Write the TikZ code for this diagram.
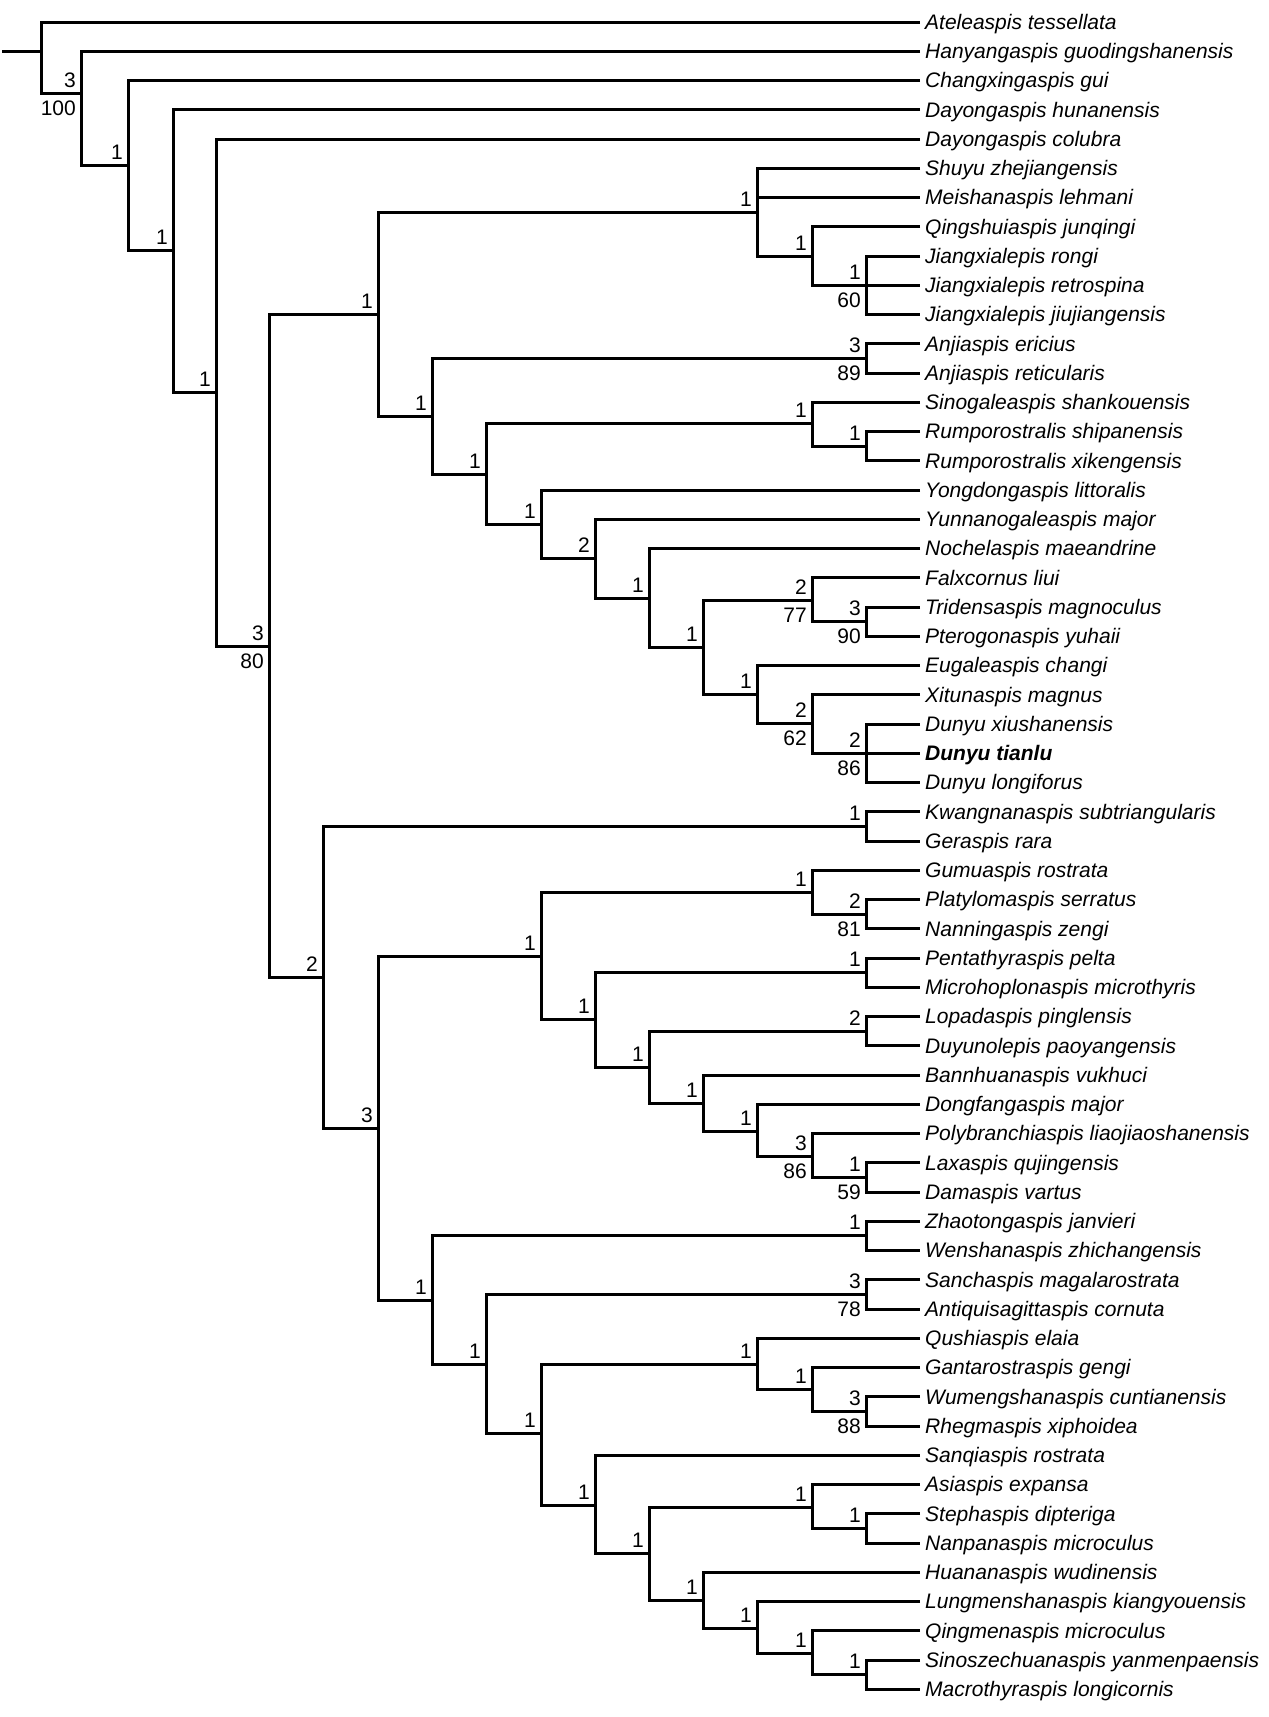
\documentclass[tikz,border=0pt]{standalone}
\usepackage{fontspec}
\setmainfont{Liberation Sans}
\begin{document}
\begin{tikzpicture}[x=1pt,y=-1pt,
  br/.style={line width=3pt,line join=miter,black},
  taxon/.style={anchor=base west,inner sep=0pt,font=\fontsize{21}{25}\selectfont\itshape},
  num/.style={anchor=base east,inner sep=0pt,font=\fontsize{21}{25}\selectfont}]
\useasboundingbox (0,0) rectangle (1269,1717);
\newcommand\leafnode[2]{\coordinate (e#1) at (920,{22+(#1-1)*29.25});
  \node[taxon] (t#1) at ([xshift=5pt,yshift=-7.4pt]e#1) {#2};}
\newcommand\clade[3]{\draw[br] (#2) -| (#1) |- (#3);}
\newcommand\extra[2]{\draw[br] (#1 |- #2) -- (#2);}
\newcommand\supa[2]{\node[num] (ua#1) at ([xshift=-5pt,yshift=6pt]#1) {#2};}
\newcommand\supb[2]{\node[num] (ub#1) at ([xshift=-5pt,yshift=-22pt]#1) {#2};}
% taxa
\leafnode{1}{Ateleaspis tessellata}
\leafnode{2}{Hanyangaspis guodingshanensis}
\leafnode{3}{Changxingaspis gui}
\leafnode{4}{Dayongaspis hunanensis}
\leafnode{5}{Dayongaspis colubra}
\leafnode{6}{Shuyu zhejiangensis}
\leafnode{7}{Meishanaspis lehmani}
\leafnode{8}{Qingshuiaspis junqingi}
\leafnode{9}{Jiangxialepis rongi}
\leafnode{10}{Jiangxialepis retrospina}
\leafnode{11}{Jiangxialepis jiujiangensis}
\leafnode{12}{Anjiaspis ericius}
\leafnode{13}{Anjiaspis reticularis}
\leafnode{14}{Sinogaleaspis shankouensis}
\leafnode{15}{Rumporostralis shipanensis}
\leafnode{16}{Rumporostralis xikengensis}
\leafnode{17}{Yongdongaspis littoralis}
\leafnode{18}{Yunnanogaleaspis major}
\leafnode{19}{Nochelaspis maeandrine}
\leafnode{20}{Falxcornus liui}
\leafnode{21}{Tridensaspis magnoculus}
\leafnode{22}{Pterogonaspis yuhaii}
\leafnode{23}{Eugaleaspis changi}
\leafnode{24}{Xitunaspis magnus}
\leafnode{25}{Dunyu xiushanensis}
\leafnode{26}{\bfseries Dunyu tianlu}
\leafnode{27}{Dunyu longiforus}
\leafnode{28}{Kwangnanaspis subtriangularis}
\leafnode{29}{Geraspis rara}
\leafnode{30}{Gumuaspis rostrata}
\leafnode{31}{Platylomaspis serratus}
\leafnode{32}{Nanningaspis zengi}
\leafnode{33}{Pentathyraspis pelta}
\leafnode{34}{Microhoplonaspis microthyris}
\leafnode{35}{Lopadaspis pinglensis}
\leafnode{36}{Duyunolepis paoyangensis}
\leafnode{37}{Bannhuanaspis vukhuci}
\leafnode{38}{Dongfangaspis major}
\leafnode{39}{Polybranchiaspis liaojiaoshanensis}
\leafnode{40}{Laxaspis qujingensis}
\leafnode{41}{Damaspis vartus}
\leafnode{42}{Zhaotongaspis janvieri}
\leafnode{43}{Wenshanaspis zhichangensis}
\leafnode{44}{Sanchaspis magalarostrata}
\leafnode{45}{Antiquisagittaspis cornuta}
\leafnode{46}{Qushiaspis elaia}
\leafnode{47}{Gantarostraspis gengi}
\leafnode{48}{Wumengshanaspis cuntianensis}
\leafnode{49}{Rhegmaspis xiphoidea}
\leafnode{50}{Sanqiaspis rostrata}
\leafnode{51}{Asiaspis expansa}
\leafnode{52}{Stephaspis dipteriga}
\leafnode{53}{Nanpanaspis microculus}
\leafnode{54}{Huananaspis wudinensis}
\leafnode{55}{Lungmenshanaspis kiangyouensis}
\leafnode{56}{Qingmenaspis microculus}
\leafnode{57}{Sinoszechuanaspis yanmenpaensis}
\leafnode{58}{Macrothyraspis longicornis}
% internal nodes
\coordinate (r0) at (2,51.25);
\coordinate (root) at (41,51.25);
\coordinate (n2) at (81,93);
\coordinate (n3) at (128,165);
\coordinate (n4) at (173,250);
\coordinate (n5) at (216,392);
\coordinate (n6) at (269,646);
\coordinate (nA) at (378,314);
\coordinate (nA1) at (757,212);
\coordinate (nQ) at (812,256);
\coordinate (nJ) at (866,285.25);
\coordinate (nA2) at (432,416);
\coordinate (nAnj) at (866,358.4);
\coordinate (nA3) at (486,474);
\coordinate (nSino) at (812,423);
\coordinate (nRump) at (866,446.1);
\coordinate (nA4) at (541,524);
\coordinate (nA5) at (595,558);
\coordinate (nA6) at (649,598);
\coordinate (nA7) at (703,647);
\coordinate (nF) at (812,600);
\coordinate (nT) at (866,621.6);
\coordinate (nE) at (757,694);
\coordinate (nX) at (812,723);
\coordinate (nD) at (866,753.25);
\coordinate (nB) at (323,977);
\coordinate (nK) at (866,826.4);
\coordinate (nC) at (378,1128);
\coordinate (nG) at (541,956);
\coordinate (nGum) at (812,892);
\coordinate (nPl) at (866,914.1);
\coordinate (nP) at (595,1019);
\coordinate (nPen) at (866,972.6);
\coordinate (nL) at (649,1067);
\coordinate (nLop) at (866,1031.1);
\coordinate (nBan) at (703,1103);
\coordinate (nDong) at (757,1131);
\coordinate (nPoly) at (812,1156);
\coordinate (nLax) at (866,1177.4);
\coordinate (nZ) at (432,1300);
\coordinate (nZh) at (866,1235.9);
\coordinate (nS) at (486,1364);
\coordinate (nSan) at (866,1294.4);
\coordinate (nQu) at (541,1433);
\coordinate (nQs) at (757,1364);
\coordinate (nGa) at (812,1389);
\coordinate (nW) at (866,1411.4);
\coordinate (nSq) at (595,1505);
\coordinate (nAs) at (649,1553);
\coordinate (nAsi) at (812,1507);
\coordinate (nSt) at (866,1528.4);
\coordinate (nHu) at (703,1600);
\coordinate (nLu) at (757,1628);
\coordinate (nQm) at (812,1653);
\coordinate (nSz) at (866,1674.6);
% branches
\draw[br] (r0) -- (root);
\clade{root}{e1}{n2}
\clade{n2}{e2}{n3}
\clade{n3}{e3}{n4}
\clade{n4}{e4}{n5}
\clade{n5}{e5}{n6}
\clade{n6}{nA}{nB}
\clade{nA}{nA1}{nA2}
\clade{nA1}{e6}{nQ} \extra{nA1}{e7}
\clade{nQ}{e8}{nJ}
\clade{nJ}{e9}{e11} \extra{nJ}{e10}
\clade{nA2}{nAnj}{nA3}
\clade{nAnj}{e12}{e13}
\clade{nA3}{nSino}{nA4}
\clade{nSino}{e14}{nRump}
\clade{nRump}{e15}{e16}
\clade{nA4}{e17}{nA5}
\clade{nA5}{e18}{nA6}
\clade{nA6}{e19}{nA7}
\clade{nA7}{nF}{nE}
\clade{nF}{e20}{nT}
\clade{nT}{e21}{e22}
\clade{nE}{e23}{nX}
\clade{nX}{e24}{nD}
\clade{nD}{e25}{e27} \extra{nD}{e26}
\clade{nB}{nK}{nC}
\clade{nK}{e28}{e29}
\clade{nC}{nG}{nZ}
\clade{nG}{nGum}{nP}
\clade{nGum}{e30}{nPl}
\clade{nPl}{e31}{e32}
\clade{nP}{nPen}{nL}
\clade{nPen}{e33}{e34}
\clade{nL}{nLop}{nBan}
\clade{nLop}{e35}{e36}
\clade{nBan}{e37}{nDong}
\clade{nDong}{e38}{nPoly}
\clade{nPoly}{e39}{nLax}
\clade{nLax}{e40}{e41}
\clade{nZ}{nZh}{nS}
\clade{nZh}{e42}{e43}
\clade{nS}{nSan}{nQu}
\clade{nSan}{e44}{e45}
\clade{nQu}{nQs}{nSq}
\clade{nQs}{e46}{nGa}
\clade{nGa}{e47}{nW}
\clade{nW}{e48}{e49}
\clade{nSq}{e50}{nAs}
\clade{nAs}{nAsi}{nHu}
\clade{nAsi}{e51}{nSt}
\clade{nSt}{e52}{e53}
\clade{nHu}{e54}{nLu}
\clade{nLu}{e55}{nQm}
\clade{nQm}{e56}{nSz}
\clade{nSz}{e57}{e58}
% support values
\supa{n2}{3} \supb{n2}{100}
\supa{n3}{1}
\supa{n4}{1}
\supa{n5}{1}
\supa{n6}{3} \supb{n6}{80}
\supa{nA}{1}
\supa{nA1}{1}
\supa{nQ}{1}
\supa{nJ}{1} \supb{nJ}{60}
\supa{nA2}{1}
\supa{nAnj}{3} \supb{nAnj}{89}
\supa{nA3}{1}
\supa{nSino}{1}
\supa{nRump}{1}
\supa{nA4}{1}
\supa{nA5}{2}
\supa{nA6}{1}
\supa{nA7}{1}
\supa{nF}{2} \supb{nF}{77}
\supa{nT}{3} \supb{nT}{90}
\supa{nE}{1}
\supa{nX}{2} \supb{nX}{62}
\supa{nD}{2} \supb{nD}{86}
\supa{nB}{2}
\supa{nK}{1}
\supa{nC}{3}
\supa{nG}{1}
\supa{nGum}{1}
\supa{nPl}{2} \supb{nPl}{81}
\supa{nP}{1}
\supa{nPen}{1}
\supa{nL}{1}
\supa{nLop}{2}
\supa{nBan}{1}
\supa{nDong}{1}
\supa{nPoly}{3} \supb{nPoly}{86}
\supa{nLax}{1} \supb{nLax}{59}
\supa{nZ}{1}
\supa{nZh}{1}
\supa{nS}{1}
\supa{nSan}{3} \supb{nSan}{78}
\supa{nQu}{1}
\supa{nQs}{1}
\supa{nGa}{1}
\supa{nW}{3} \supb{nW}{88}
\supa{nSq}{1}
\supa{nAs}{1}
\supa{nAsi}{1}
\supa{nSt}{1}
\supa{nHu}{1}
\supa{nLu}{1}
\supa{nQm}{1}
\supa{nSz}{1}
\end{tikzpicture}
\end{document}
